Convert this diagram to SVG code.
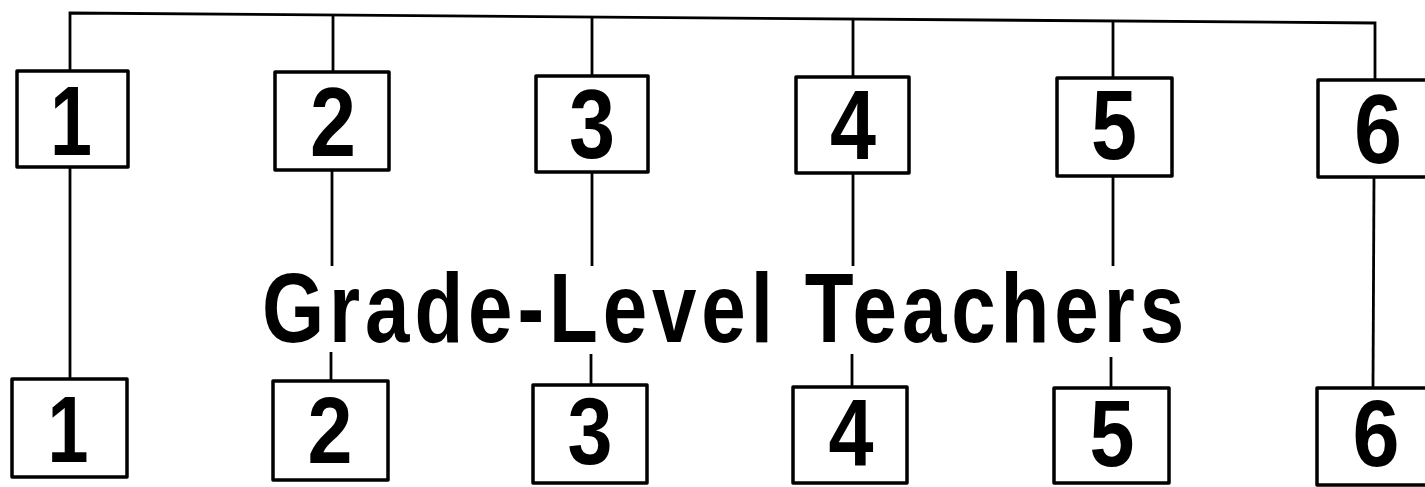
<svg xmlns="http://www.w3.org/2000/svg" width="1425" height="487" viewBox="0 0 1425 487">
<style>
.box{fill:#fff;stroke:#000;stroke-width:3.5;stroke-linejoin:round}
.ln{fill:none;stroke:#000;stroke-width:2.8;stroke-linecap:butt}
.dg{font-family:"Liberation Sans",Arial,sans-serif;font-weight:bold;font-size:98px;fill:#000;text-anchor:middle}
.dgb{font-family:"Liberation Sans",Arial,sans-serif;font-weight:bold;font-size:94px;fill:#000;text-anchor:middle}
.ttl{font-family:"Liberation Sans",Arial,sans-serif;font-weight:bold;font-size:98px;fill:#000;letter-spacing:6px}
</style>
<rect width="1425" height="487" fill="#fff"/>
<g id="connectors">
<polyline class="ln" points="70,73 70,13 1375,23 1375,80"/>
<line class="ln" x1="333" y1="14.5" x2="333" y2="72"/>
<line class="ln" x1="592" y1="16.5" x2="592" y2="76"/>
<line class="ln" x1="853" y1="18.5" x2="853" y2="77"/>
<line class="ln" x1="1113" y1="20.5" x2="1113" y2="78"/>
<line class="ln" x1="70" y1="167" x2="70" y2="379"/>
<line class="ln" x1="332" y1="170" x2="332" y2="266"/>
<line class="ln" x1="331" y1="352" x2="331" y2="381"/>
<line class="ln" x1="592" y1="172" x2="592" y2="266"/>
<line class="ln" x1="591" y1="354" x2="591" y2="385"/>
<line class="ln" x1="853" y1="173" x2="853" y2="266"/>
<line class="ln" x1="852" y1="354" x2="852" y2="387"/>
<line class="ln" x1="1113" y1="176" x2="1113" y2="266"/>
<line class="ln" x1="1111" y1="357" x2="1111" y2="388"/>
<line class="ln" x1="1374" y1="177" x2="1373" y2="387"/>
</g>
<g id="top1"><rect class="box" x="17" y="71" width="111" height="96"/><text class="dg" x="71" y="155" textLength="42" lengthAdjust="spacingAndGlyphs">1</text></g>
<g id="top2"><rect class="box" x="275" y="72" width="114" height="98"/><text class="dg" x="333" y="156" textLength="46" lengthAdjust="spacingAndGlyphs">2</text></g>
<g id="top3"><rect class="box" x="536" y="76" width="112" height="96"/><text class="dg" x="592" y="158" textLength="46" lengthAdjust="spacingAndGlyphs">3</text></g>
<g id="top4"><rect class="box" x="796" y="77" width="113" height="96"/><text class="dg" x="853" y="159" textLength="46" lengthAdjust="spacingAndGlyphs">4</text></g>
<g id="top5"><rect class="box" x="1057" y="78" width="115" height="98"/><text class="dg" x="1114" y="159" textLength="46" lengthAdjust="spacingAndGlyphs">5</text></g>
<g id="top6"><rect class="box" x="1318" y="80" width="114" height="97"/><text class="dg" x="1378" y="163" textLength="48" lengthAdjust="spacingAndGlyphs">6</text></g>
<g id="bottom1"><rect class="box" x="12" y="379" width="115" height="98"/><text class="dgb" x="68" y="462" textLength="41" lengthAdjust="spacingAndGlyphs">1</text></g>
<g id="bottom2"><rect class="box" x="273" y="381" width="115" height="99"/><text class="dgb" x="330" y="463" textLength="45" lengthAdjust="spacingAndGlyphs">2</text></g>
<g id="bottom3"><rect class="box" x="533" y="385" width="114" height="98"/><text class="dgb" x="590" y="464" textLength="45" lengthAdjust="spacingAndGlyphs">3</text></g>
<g id="bottom4"><rect class="box" x="793" y="387" width="114" height="96"/><text class="dgb" x="851" y="465" textLength="45" lengthAdjust="spacingAndGlyphs">4</text></g>
<g id="bottom5"><rect class="box" x="1054" y="388" width="115" height="95"/><text class="dgb" x="1112" y="466" textLength="45" lengthAdjust="spacingAndGlyphs">5</text></g>
<g id="bottom6"><rect class="box" x="1317" y="388" width="115" height="97"/><text class="dgb" x="1376" y="466" textLength="47" lengthAdjust="spacingAndGlyphs">6</text></g>
<g id="title"><text class="ttl" x="262" y="342" textLength="927" lengthAdjust="spacingAndGlyphs">Grade-Level Teachers</text></g>
</svg>
